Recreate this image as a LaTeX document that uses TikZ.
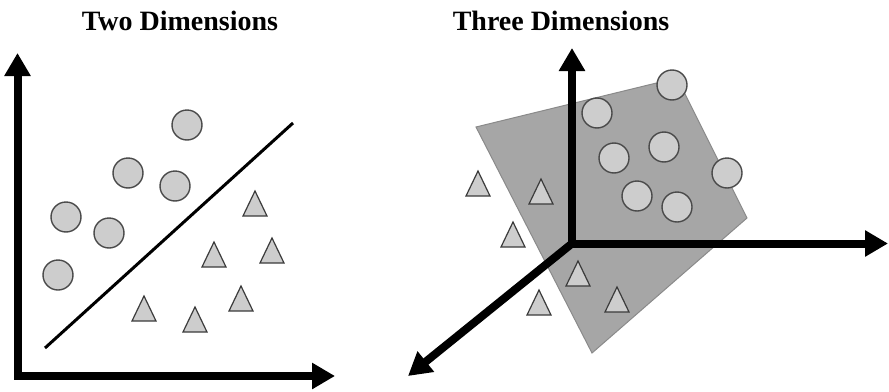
\documentclass[tikz,border=0pt]{standalone}
\usepackage{fontspec}
\setmainfont{Liberation Serif}
\usetikzlibrary{arrows.meta}
\definecolor{dotfill}{HTML}{CDCDCD}
\definecolor{dotedge}{HTML}{4A4A4A}
\definecolor{planefill}{HTML}{A6A6A6}
\definecolor{planeedge}{HTML}{8A8A8A}
\tikzset{
  axis/.style={line width=8pt, black, line join=miter},
  bigtip/.style={-{Triangle[length=23pt,width=25pt]}},
  dot/.style={fill=dotfill, draw=dotedge, line width=1.4pt},
  tri/.style={fill=dotfill, draw=dotedge!80!black, line width=1.2pt, line join=miter},
  title/.style={anchor=base, font=\bfseries\fontsize{28}{30}\selectfont, inner sep=0pt},
  sep/.style={line width=3pt, black},
  plane/.style={fill=planefill, draw=planeedge, line width=1pt}
}
\newcommand{\mytri}[2]{\draw[tri] (#1,#2) -- ++(12,25) -- ++(-24,0) -- cycle;}
\newcommand{\mydot}[2]{\draw[dot] (#1,#2) circle (15pt);}
\begin{document}
\begin{tikzpicture}[x=1pt,y=-1pt]
\useasboundingbox (0,0) rectangle (889,391);
% titles
\node[title] (t2) at (180,30) {Two Dimensions};
\node[title] (t3) at (561,30) {Three Dimensions};
% ---- left panel
\draw[axis, {Triangle[length=23pt,width=25pt]}-{Triangle[length=23pt,width=25pt]}]
  (17.5,53) -- (17.5,376) -- (335,376);
\draw[sep] (45,348) -- (293,123);
\mydot{187}{125}
\mydot{128}{173}
\mydot{175}{186}
\mydot{66}{217}
\mydot{109}{233}
\mydot{58}{275}
\mytri{255}{191}
\mytri{214}{242}
\mytri{272}{238}
\mytri{241}{286}
\mytri{144}{296}
\mytri{195}{307}
% ---- right panel
\draw[plane] (476,127) -- (677,78) -- (747,218) -- (592,353) -- cycle;
\coordinate (o) at (572,243.5);
\draw[axis, bigtip] (572,247.5) -- (572,48);
\draw[axis, bigtip] (568,243.5) -- (888,243.5);
\draw[axis, bigtip] (o) -- (408,376);
\mydot{672}{85}
\mydot{597}{113}
\mydot{614}{158}
\mydot{664}{147}
\mydot{727}{173}
\mydot{637}{196}
\mydot{677}{207}
\mytri{478}{171}
\mytri{541}{179}
\mytri{513}{222}
\mytri{578}{261}
\mytri{539}{290}
\mytri{617}{287}
\end{tikzpicture}
\end{document}
